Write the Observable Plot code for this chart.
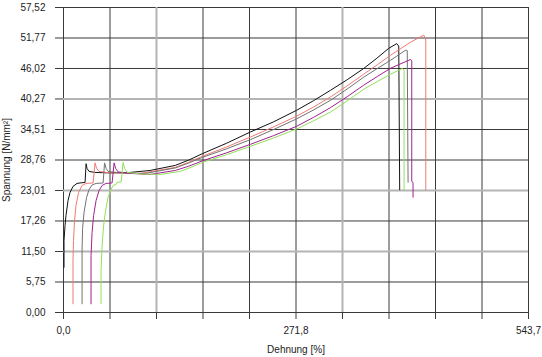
<!DOCTYPE html>
<html><head><meta charset="utf-8">
<script src="https://cdn.jsdelivr.net/npm/d3@7"></script>
<script src="https://cdn.jsdelivr.net/npm/@observablehq/plot@0.6"></script>
<style>body{margin:0;background:#fff;}</style>
</head><body><div id="chart"></div>
<script>
// Tick values and labels
const xTicks = [0, 54.37, 108.74, 163.11, 217.48, 271.85, 326.22, 380.59, 434.96, 489.33, 543.7];
const xTickLabels = ["0,0", "", "", "", "", "271,8", "", "", "", "", "543,7"];
const yTicks = [0, 5.75, 11.50, 17.26, 23.01, 28.76, 34.51, 40.27, 46.02, 51.77, 57.52];
const yTickLabels = ["0,00", "5,75", "11,50", "17,26", "23,01", "28,76", "34,51", "40,27", "46,02", "51,77", "57,52"];

// Specimens (Dehnung [%], Spannung [N/mm²])
const specimenNames = ["1", "2", "3", "4", "5"];
const strain1 = [0.6, 0.6, 1.8, 2.9, 5.3, 7.6, 11.1, 15.8, 19.3, 25.2, 26.4, 27.5, 29.9, 36.9, 54.5, 77.9, 101.4, 130.7, 146.5, 162.3, 190.4, 218.5, 245.5, 272.4, 292.4, 312.3, 331.7, 351.0, 365.6, 380.2, 389.6, 392.0, 393.1];
const stress1 = [8.53, 13.56, 16.39, 18.28, 21.12, 22.63, 23.77, 24.34, 24.43, 24.53, 28.06, 27.17, 26.61, 26.42, 26.32, 26.42, 26.79, 27.74, 28.75, 29.95, 31.9, 34.04, 35.95, 38.12, 39.95, 41.92, 43.9, 46.02, 47.85, 49.81, 50.71, 50.24, 23.15];
const strain2 = [11.1, 11.1, 11.7, 12.9, 14.6, 17.6, 21.7, 26.4, 34.6, 36.9, 38.7, 41.6, 54.5, 89.6, 130.7, 146.5, 162.3, 190.4, 218.5, 245.5, 272.4, 292.4, 312.3, 331.7, 351.0, 366.8, 382.6, 406.0, 421.3, 423.6, 423.6];
const stress2 = [1.64, 9.78, 13.56, 17.34, 20.18, 22.63, 23.96, 24.34, 24.43, 28.21, 27.17, 26.61, 26.32, 26.23, 27.36, 28.33, 29.45, 31.2, 33.09, 35.0, 37.0, 38.75, 40.65, 42.75, 44.95, 46.7, 48.54, 51.0, 52.32, 51.38, 23.15];
const strain3 = [21.7, 21.7, 22.3, 24.0, 27.0, 29.9, 33.4, 38.1, 46.3, 48.0, 49.8, 52.1, 66.2, 95.5, 130.7, 146.5, 162.3, 190.4, 218.5, 245.5, 272.4, 292.4, 312.3, 331.7, 351.0, 366.8, 382.6, 400.2, 401.9, 402.9];
const stress3 = [1.64, 11.66, 15.83, 18.85, 21.69, 23.20, 24.05, 24.34, 24.43, 28.21, 27.17, 26.61, 26.32, 26.23, 27.26, 28.2, 29.25, 30.85, 32.60, 34.5, 36.5, 38.2, 40.03, 42.15, 44.38, 46.0, 47.59, 49.48, 49.39, 24.58];
const strain4 = [32.2, 32.2, 33.4, 35.2, 38.1, 41.6, 45.1, 49.8, 56.8, 59.2, 60.9, 63.9, 77.9, 101.4, 130.7, 146.5, 162.3, 190.4, 218.5, 245.5, 272.4, 292.4, 312.3, 331.7, 351.0, 366.8, 382.6, 406.0, 407.2, 407.2, 408.7, 408.7];
const stress4 = [1.64, 10.72, 15.07, 18.28, 21.12, 23.01, 23.96, 24.34, 24.43, 28.21, 27.17, 26.51, 26.23, 26.04, 26.79, 27.6, 28.59, 30.1, 31.71, 33.35, 35.1, 36.8, 38.65, 40.7, 42.87, 44.5, 46.08, 47.73, 47.41, 24.71, 24.53, 21.75];
const strain5 = [43.9, 43.9, 45.1, 46.9, 49.2, 52.1, 55.1, 58.0, 61.5, 62.7, 67.4, 69.7, 71.5, 74.4, 89.6, 113.1, 136.5, 149.4, 162.3, 190.4, 218.5, 245.5, 272.4, 292.4, 312.3, 331.7, 351.0, 366.8, 382.6, 396.3, 398.2, 398.2];
const stress5 = [1.64, 7.89, 12.61, 16.39, 19.23, 21.69, 23.01, 23.96, 24.15, 24.53, 24.62, 28.31, 27.17, 26.42, 26.13, 26.04, 26.61, 27.4, 28.31, 29.75, 31.33, 32.9, 34.6, 36.15, 37.82, 39.9, 42.11, 43.55, 44.95, 46.03, 45.70, 23.15];

const strains = [strain1, strain2, strain3, strain4, strain5];
const stresses = [stress1, stress2, stress3, stress4, stress5];
const colors = ["#111111", "#f07a72", "#727272", "#a0228f", "#92e05a"];

const rows = [];
specimenNames.forEach((name, s) => {
  strains[s].forEach((x, i) => rows.push({name, x, y: stresses[s][i]}));
});

const lightX = [108.74, 326.22];
const lightY = [11.50, 23.01, 40.27];

const chart = Plot.plot({
  width: 542,
  height: 357,
  marginLeft: 63,
  marginRight: 14,
  marginTop: 7,
  marginBottom: 45,
  style: {fontFamily: "'Liberation Sans', Arial, sans-serif", fontSize: "10px", color: "#222", background: "#fff"},
  x: {domain: [0, 543.7]},
  y: {domain: [0, 57.52]},
  color: {domain: specimenNames, range: colors},
  marks: [
    Plot.ruleX(xTicks.filter(d => !lightX.includes(d)), {stroke: "#3a3a3a", strokeWidth: 1}),
    Plot.ruleY(yTicks.filter(d => !lightY.includes(d)), {stroke: "#3a3a3a", strokeWidth: 1}),
    Plot.ruleX(lightX, {stroke: "#b4b4b4", strokeWidth: 2}),
    Plot.ruleY(lightY, {stroke: "#b4b4b4", strokeWidth: 2}),
    Plot.axisX({ticks: xTicks, tickFormat: (d, i) => xTickLabels[i], tickSize: 7, tickPadding: 7,
      stroke: "#3a3a3a", label: "Dehnung [%]", labelAnchor: "center", labelArrow: "none", labelOffset: 40}),
    Plot.axisY({ticks: yTicks, tickFormat: (d, i) => yTickLabels[i], tickSize: 8, tickPadding: 10,
      stroke: "#3a3a3a", label: "Spannung [N/mm²]", labelAnchor: "center", labelArrow: "none", labelOffset: 61}),
    Plot.line(rows, {x: "x", y: "y", z: "name", stroke: "name", strokeWidth: 1, curve: "linear"})
  ]
});
document.getElementById("chart").appendChild(chart);
</script>
</body></html>
